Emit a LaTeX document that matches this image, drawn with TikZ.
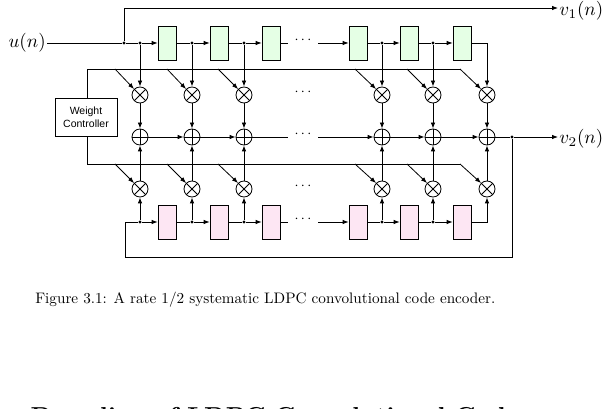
\documentclass[tikz,border=0pt]{standalone}
\usetikzlibrary{arrows.meta}
\usepackage{fontspec}
\newfontfamily\arl{Liberation Sans}
\begin{document}
\begin{tikzpicture}[x=1pt,y=-1pt,
  ln/.style={line width=0.8pt},
  arr/.style={ln,-{Latex[length=6pt,width=4.5pt]}},
  dot/.style={circle,fill,inner sep=0pt,minimum size=3.2pt},
  regA/.style={draw,line width=0.7pt,fill=green!10,minimum width=18pt,minimum height=34pt,inner sep=0pt},
  regB/.style={draw,line width=0.7pt,fill=magenta!10,minimum width=18pt,minimum height=34pt,inner sep=0pt},
  opc/.style={circle,draw,line width=0.8pt,minimum size=16pt,inner sep=0pt},
  dts/.style={font=\Large},
  io/.style={scale=1.9,inner sep=0.5pt}]
\useasboundingbox (0,0) rectangle (606,409);
\clip (0,0) rectangle (606,409);
\fill[white] (0,0) rectangle (606,409);
% inputs/outputs
\node[anchor=east,io] (u) at (47,43) {$u(n)$};
\node[anchor=west,io] (v1) at (558,11) {$v_1(n)$};
\node[anchor=west,io] (v2) at (558,139) {$v_2(n)$};
\node[dot] (j0) at (124,43) {};
\coordinate (t0) at (124,8);
\draw[ln] (u) -- (j0);
\draw[arr] (j0) -- (t0) -- (v1.west|-t0);
% columns
\foreach \i/\x/\rx in {1/140/167,2/192/219,3/244/271,4/382/358,5/433/409,6/487/462}{
  \node[opc] (m\i) at (\x,95) {};
  \draw[ln] (m\i.north west) -- (m\i.south east) (m\i.north east) -- (m\i.south west);
  \node[opc] (a\i) at (\x,137) {};
  \draw[ln] (a\i.north) -- (a\i.south) (a\i.west) -- (a\i.east);
  \node[opc] (l\i) at (\x,189) {};
  \draw[ln] (l\i.north west) -- (l\i.south east) (l\i.north east) -- (l\i.south west);
  \draw[arr] (m\i) -- (a\i);
  \draw[arr] (l\i) -- (a\i);
  \node[regA] (r\i) at (\rx,43) {};
  \node[regB] (s\i) at (\rx,222) {};
}
\foreach \i in {1,...,5}{ \node[dot] (tj\i) at (m\i|-r1) {}; \node[dot] (bj\i) at (l\i|-s1) {}; }
% top register row
\draw[ln] (j0) -- (tj1);
\draw[arr] (tj1) -- (r1);
\draw[ln] (r1) -- (tj2); \draw[arr] (tj2) -- (r2);
\draw[ln] (r2) -- (tj3); \draw[arr] (tj3) -- (r3);
\draw[ln] (r3.east) -- (288,43);
\node[dts] (td) at (303,40) {$\cdots$};
\draw[arr] (318,43) -- (r4.west);
\draw[ln] (r4) -- (tj4); \draw[arr] (tj4) -- (r5);
\draw[ln] (r5) -- (tj5); \draw[arr] (tj5) -- (r6);
\foreach \i in {1,...,5}{ \draw[arr] (tj\i) -- (m\i); }
\draw[arr] (r6.east) -- (m6|-r6) -- (m6);
% bottom register row
\node[dot] (v2j) at (512,137) {};
\coordinate (fb1) at (512,257);
\coordinate (fb2) at (125,257);
\coordinate (fb3) at (125,222);
\draw[ln] (v2j) -- (fb1) -- (fb2) -- (fb3) -- (bj1);
\draw[arr] (bj1) -- (s1);
\draw[ln] (s1) -- (bj2); \draw[arr] (bj2) -- (s2);
\draw[ln] (s2) -- (bj3); \draw[arr] (bj3) -- (s3);
\draw[ln] (s3.east) -- (288,222);
\node[dts] (bd) at (303,219) {$\cdots$};
\draw[arr] (318,222) -- (s4.west);
\draw[ln] (s4) -- (bj4); \draw[arr] (bj4) -- (s5);
\draw[ln] (s5) -- (bj5); \draw[arr] (bj5) -- (s6);
\foreach \i in {1,...,5}{ \draw[arr] (bj\i) -- (l\i); }
\draw[arr] (s6.east) -- (l6|-s6) -- (l6);
% adder chain
\draw[arr] (a1) -- (a2); \draw[arr] (a2) -- (a3);
\draw[ln] (a3) -- (288,137);
\node[dts] (ad) at (303,134) {$\cdots$};
\draw[arr] (318,137) -- (a4);
\draw[arr] (a4) -- (a5); \draw[arr] (a5) -- (a6);
\draw[ln] (a6) -- (v2j); \draw[arr] (v2j) -- (v2.west|-v2j);
\node[dts] (md) at (303,92) {$\cdots$};
\node[dts] (ld) at (303,186) {$\cdots$};
% weight controller
\node[draw,line width=0.7pt,minimum width=62pt,minimum height=38pt,align=center,font=\arl\fontsize{10.5}{12.5}\selectfont,inner sep=1pt] (wc) at (86,117) {Weight\\Controller};
\coordinate (wt) at (87,69);
\coordinate (wb) at (87,164);
\draw[ln] (wc.north-|wt) -- (wt) -- (460,69);
\draw[ln] (wc.south-|wb) -- (wb) -- (460,164);
\foreach \i/\x in {1/115,2/167,3/218,4/355,5/407,6/460}{
  \coordinate (wu\i) at (\x,69);
  \coordinate (wl\i) at (\x,164);
  \draw[arr] (wu\i) -- (m\i.north west);
  \draw[arr] (wl\i) -- (l\i.north west);
}
% caption and heading
\node[anchor=west,scale=1.52,inner sep=0pt] (cap) at (35,300) {Figure 3.1: A rate 1/2 systematic LDPC convolutional code encoder.};
\node[anchor=west,scale=2.45,font=\bfseries] (hd) at (22,418) {Decoding of LDPC Convolutional Codes};
\end{tikzpicture}
\end{document}
